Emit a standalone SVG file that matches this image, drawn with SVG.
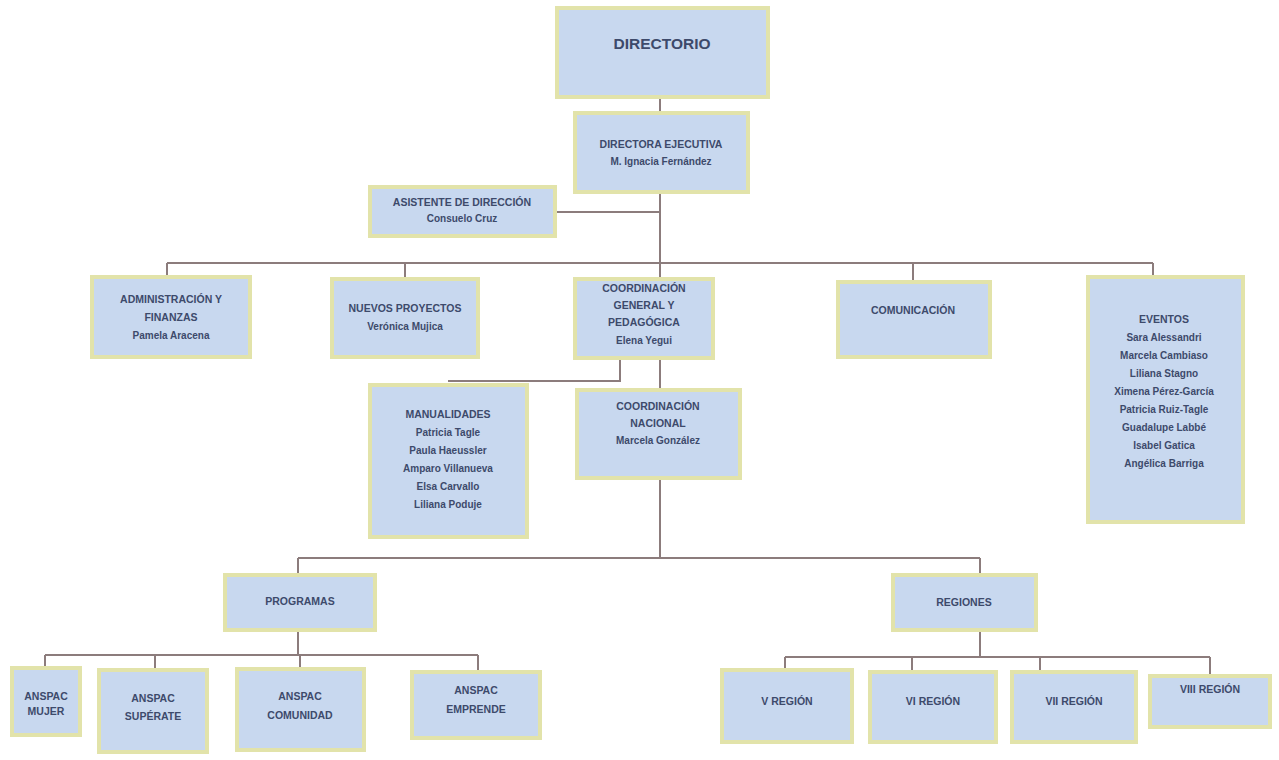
<svg xmlns="http://www.w3.org/2000/svg" width="1279" height="760" viewBox="0 0 1279 760">
<style>
.box{fill:#c8d8ef;stroke:#e2e3aa;stroke-width:4}
.t{font-family:"Liberation Sans","DejaVu Sans",sans-serif;font-size:10.5px;font-weight:bold;fill:#3d4a6b;text-anchor:middle}
.n{font-size:10px}
.big{font-size:15.5px}
.ln{fill:none;stroke:#8c7c7c;stroke-width:2}
</style>
<rect width="1279" height="760" fill="#ffffff"/>
<g id="connectors">
<path class="ln" d="M660 97V113M660 192V263M555 212H660M167 263H1153M167 263V277M405 263V279M660 263V279M913 263V282M1153 263V277"/>
<path class="ln" d="M620 358V381H448M660 358V390M660 478V558M298 558H980M298 558V575M980 558V575"/>
<path class="ln" d="M298 630V655M45 655H478M45 655V668M155 655V670M300 655V669M478 655V672"/>
<path class="ln" d="M980 630V657M785 657H1210M785 657V670M912 657V672M1040 657V672M1210 657V676"/>
</g>
<g id="directorio"><rect class="box" x="557" y="8" width="211" height="89"/><text class="t big" x="662" y="49">DIRECTORIO</text></g>
<g id="directora"><rect class="box" x="575" y="113" width="173" height="79"/><text class="t" x="661" y="148">DIRECTORA EJECUTIVA</text><text class="t n" x="661" y="165">M. Ignacia Fernández</text></g>
<g id="asistente"><rect class="box" x="370" y="187" width="185" height="49"/><text class="t" x="462" y="206">ASISTENTE DE DIRECCIÓN</text><text class="t n" x="462" y="222">Consuelo Cruz</text></g>
<g id="administracion"><rect class="box" x="92" y="277" width="158" height="80"/><text class="t" x="171" y="303">ADMINISTRACIÓN Y</text><text class="t" x="171" y="321">FINANZAS</text><text class="t n" x="171" y="339">Pamela Aracena</text></g>
<g id="nuevos"><rect class="box" x="332" y="279" width="146" height="78"/><text class="t" x="405" y="312">NUEVOS PROYECTOS</text><text class="t n" x="405" y="330">Verónica Mujica</text></g>
<g id="coordgeneral"><rect class="box" x="575" y="279" width="138" height="79"/><text class="t" x="644" y="292">COORDINACIÓN</text><text class="t" x="644" y="309">GENERAL Y</text><text class="t" x="644" y="326">PEDAGÓGICA</text><text class="t n" x="644" y="344">Elena Yegui</text></g>
<g id="comunicacion"><rect class="box" x="838" y="282" width="152" height="75"/><text class="t" x="913" y="314">COMUNICACIÓN</text></g>
<g id="eventos"><rect class="box" x="1088" y="277" width="155" height="245"/><text class="t" x="1164" y="323">EVENTOS</text><text class="t n" x="1164" y="341">Sara Alessandri</text><text class="t n" x="1164" y="359">Marcela Cambiaso</text><text class="t n" x="1164" y="377">Liliana Stagno</text><text class="t n" x="1164" y="395">Ximena Pérez-García</text><text class="t n" x="1164" y="413">Patricia Ruiz-Tagle</text><text class="t n" x="1164" y="431">Guadalupe Labbé</text><text class="t n" x="1164" y="449">Isabel Gatica</text><text class="t n" x="1164" y="467">Angélica Barriga</text></g>
<g id="manualidades"><rect class="box" x="370" y="385" width="157" height="152"/><text class="t" x="448" y="418">MANUALIDADES</text><text class="t n" x="448" y="436">Patricia Tagle</text><text class="t n" x="448" y="454">Paula Haeussler</text><text class="t n" x="448" y="472">Amparo Villanueva</text><text class="t n" x="448" y="490">Elsa Carvallo</text><text class="t n" x="448" y="508">Liliana Poduje</text></g>
<g id="coordnacional"><rect class="box" x="577" y="390" width="163" height="88"/><text class="t" x="658" y="410">COORDINACIÓN</text><text class="t" x="658" y="427">NACIONAL</text><text class="t n" x="658" y="444">Marcela González</text></g>
<g id="programas"><rect class="box" x="225" y="575" width="150" height="55"/><text class="t" x="300" y="605">PROGRAMAS</text></g>
<g id="regiones"><rect class="box" x="893" y="575" width="143" height="55"/><text class="t" x="964" y="606">REGIONES</text></g>
<g id="mujer"><rect class="box" x="12" y="668" width="68" height="67"/><text class="t" x="46" y="700">ANSPAC</text><text class="t" x="46" y="715">MUJER</text></g>
<g id="superate"><rect class="box" x="99" y="670" width="108" height="82"/><text class="t" x="153" y="702">ANSPAC</text><text class="t" x="153" y="720">SUPÉRATE</text></g>
<g id="comunidad"><rect class="box" x="237" y="669" width="127" height="81"/><text class="t" x="300" y="700">ANSPAC</text><text class="t" x="300" y="719">COMUNIDAD</text></g>
<g id="emprende"><rect class="box" x="412" y="672" width="128" height="66"/><text class="t" x="476" y="694">ANSPAC</text><text class="t" x="476" y="713">EMPRENDE</text></g>
<g id="v"><rect class="box" x="722" y="670" width="130" height="72"/><text class="t" x="787" y="705">V REGIÓN</text></g>
<g id="vi"><rect class="box" x="870" y="672" width="126" height="70"/><text class="t" x="933" y="705">VI REGIÓN</text></g>
<g id="vii"><rect class="box" x="1012" y="672" width="124" height="70"/><text class="t" x="1074" y="705">VII REGIÓN</text></g>
<g id="viii"><rect class="box" x="1150" y="676" width="120" height="51"/><text class="t" x="1210" y="693">VIII REGIÓN</text></g>
</svg>
